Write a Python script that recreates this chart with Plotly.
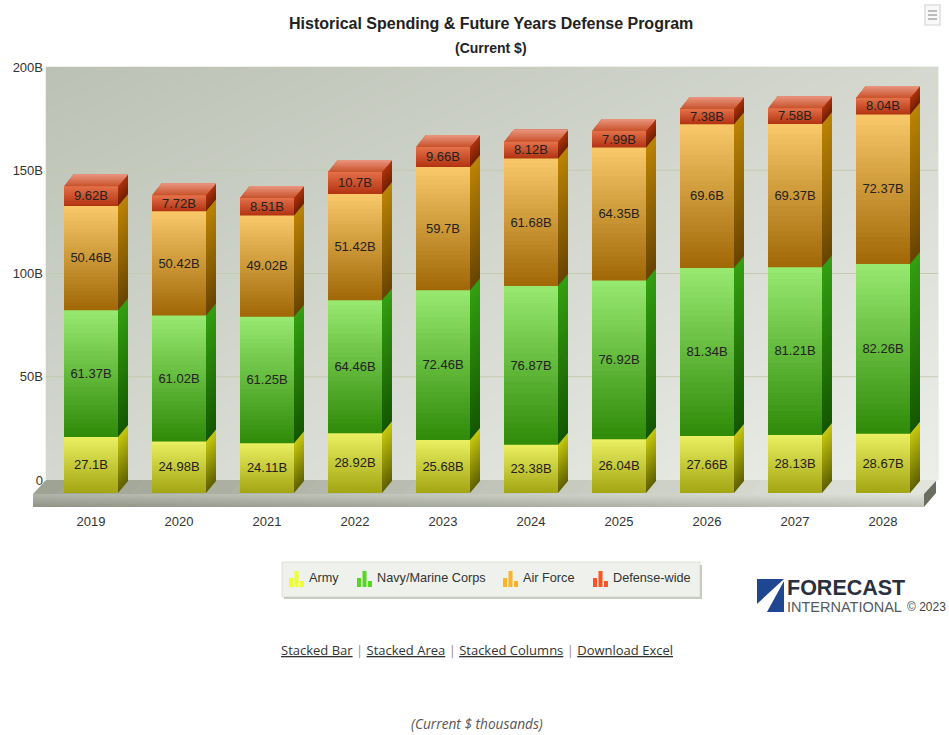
import plotly.graph_objects as go

years = ["2019", "2020", "2021", "2022", "2023", "2024", "2025", "2026", "2027", "2028"]
army = [27.1, 24.98, 24.11, 28.92, 25.68, 23.38, 26.04, 27.66, 28.13, 28.67]
navy = [61.37, 61.02, 61.25, 64.46, 72.46, 76.87, 76.92, 81.34, 81.21, 82.26]
air_force = [50.46, 50.42, 49.02, 51.42, 59.7, 61.68, 64.35, 69.6, 69.37, 72.37]
defense_wide = [9.62, 7.72, 8.51, 10.7, 9.66, 8.12, 7.99, 7.38, 7.58, 8.04]
y_ticks = [0, 50, 100, 150, 200]
y_tick_labels = ["0", "50B", "100B", "150B", "200B"]

W, H = 949, 735
series = [
    ("Army", army, "#eaf062", "#a3a512", "#c6c810", "#5f6000", "#eeff2e"),
    ("Navy/Marine Corps", navy, "#98ea70", "#2f8a08", "#33a010", "#145600", "#55d822"),
    ("Air Force", air_force, "#f9c96a", "#a06706", "#bb8404", "#694400", "#ffb224"),
    ("Defense-wide", defense_wide, "#e4704a", "#b23312", "#ad3410", "#742000", "#ff5522"),
]


def px(x):
    return x / W


def py(y):
    return 1 - y / H


def rgb(c):
    return tuple(int(c[i:i + 2], 16) for i in (1, 3, 5))


def mix(a, b, t):
    A, B = rgb(a), rgb(b)
    return "rgb(%d,%d,%d)" % tuple(round(A[i] + (B[i] - A[i]) * t) for i in range(3))


# pixel geometry of the pseudo-3D chart
STEP = 88.0
X0 = 91.0
FRONT_L, FRONT_R = 33.0, 924.0
Y_BASE, Y_TOP = 493.0, 80.0
WALL_L, WALL_R, WALL_T, WALL_B = 46.0, 938.0, 67.0, 480.0
SCALE = (Y_BASE - Y_TOP) / 200
BAR_W = 54 / STEP
DX = 10 / STEP
DY = 12 / SCALE
LABEL_DROP = 1 / SCALE
STRIPS = 28

fig = go.Figure()

# back wall (primary subplot): diagonal gradient
grid_n = 12
wall_x = [i / (grid_n - 1) for i in range(grid_n)]
wall_y = [200 * i / (grid_n - 1) for i in range(grid_n)]
wall_z = [[(x + (1 - y / 200)) / 2 for x in wall_x] for y in wall_y]
fig.add_trace(go.Heatmap(x=wall_x, y=wall_y, z=wall_z, zsmooth="best", showscale=False, hoverinfo="skip",
                         zmin=0, zmax=1, colorscale=[[0, "#bcc1b5"], [0.5, "#d4d8cf"], [1, "#eceee9"]]))
for t in y_ticks[1:-1]:
    fig.add_trace(go.Scatter(x=[0, 1], y=[t, t], mode="lines", line=dict(color="#c3cbae", width=1),
                             hoverinfo="skip", showlegend=False))

idx = list(range(len(years)))
bottom = [0.0] * len(years)
for name, vals, top_c, bot_c, side_top, side_bot, _ in series:
    for k in range(STRIPS):
        f0, f1 = k / STRIPS, (k + 1) / STRIPS
        col = mix(bot_c, top_c, (f0 + f1) / 2)
        # each strip reaches the top of its segment; the next strip paints over it, so no seams show
        fig.add_trace(go.Bar(x=idx, y=[v * (1 - f0) for v in vals],
                             base=[b + v * f0 for b, v in zip(bottom, vals)],
                             width=BAR_W, marker=dict(color=col, line=dict(width=0)),
                             name=name, hoverinfo="skip", showlegend=False, xaxis="x2", yaxis="y2"))
        sx, sy = [], []
        for i, b, v in zip(idx, bottom, vals):
            r = i + BAR_W / 2
            lo, hi = b + v * f0, b + v
            sx += [r, r + DX, r + DX, r, r, None]
            sy += [lo, lo + DY, hi + DY, hi, lo, None]
        side_col = mix(side_bot, side_top, (f0 + f1) / 2)
        fig.add_trace(go.Scatter(x=sx, y=sy, mode="none", fill="toself", fillcolor=side_col,
                                 hoverinfo="skip", showlegend=False, xaxis="x2", yaxis="y2"))
    bottom = [b + v for b, v in zip(bottom, vals)]

# top faces of the stacks
TOP_STRIPS = 8
for k in range(TOP_STRIPS):
    f0 = k / TOP_STRIPS
    tx, ty = [], []
    for i, b in zip(idx, bottom):
        l = i - BAR_W / 2
        tx += [l + DX * f0, l + BAR_W + DX * f0, l + BAR_W + DX, l + DX, l + DX * f0, None]
        ty += [b + DY * f0, b + DY * f0, b + DY, b + DY, b + DY * f0, None]
    c = mix("#c8522a", "#ea9580", f0 + 0.5 / TOP_STRIPS)
    fig.add_trace(go.Scatter(x=tx, y=ty, mode="none", fill="toself", fillcolor=c, hoverinfo="skip",
                             showlegend=False, xaxis="x2", yaxis="y2"))

# value labels
bottom = [0.0] * len(years)
for name, vals, *_ in series:
    fig.add_trace(go.Scatter(x=idx, y=[b + v / 2 - LABEL_DROP for b, v in zip(bottom, vals)], mode="text",
                             text=[f"{v:g}B" for v in vals], name=name, showlegend=False,
                             textfont=dict(family="Liberation Sans", size=13, color="#222"),
                             hovertemplate=name + " %{text}<extra></extra>", xaxis="x2", yaxis="y2"))
    bottom = [b + v for b, v in zip(bottom, vals)]

# front lip of the floor
lip_x = [i / 11 for i in range(12)]
lip_y = [i / 5 for i in range(6)]
lip_z = [[0.12 + 0.5 * x + 0.36 * y for x in lip_x] for y in lip_y]
fig.add_trace(go.Heatmap(x=lip_x, y=lip_y, z=lip_z, zsmooth="best", showscale=False, hoverinfo="skip",
                         zmin=0, zmax=1, colorscale=[[0, "#83887a"], [1, "#e0e3da"]], xaxis="x3", yaxis="y3"))

shapes = []


def poly(points, fill, line=None, layer="below"):
    path = "M" + "L".join(f"{px(x):.5f},{py(y):.5f}" for x, y in points) + "Z"
    shapes.append(dict(type="path", xref="paper", yref="paper", path=path, fillcolor=fill, layer=layer,
                       line=dict(width=0.5 if line else 0, color=line or fill)))


# floor top surface
n = 36
for i in range(n):
    a, b = i / n, (i + 1) / n
    fx = lambda t, y_: (33 + (46 - 33) * (494 - y_) / 14) + t * 891
    c = mix("#9ea293", "#e2e5dd", (a + b) / 2)
    poly([(fx(a, 494), 494), (fx(b, 494) + .5, 494), (fx(b, 480) + .5, 480), (fx(a, 480), 480)], c)
# floor right face
poly([(924, 494), (936, 481), (936, 493), (924, 507)], "#6a6e60")
# wall outline highlights
poly([(WALL_L - 1, WALL_T - 1), (WALL_R + 1, WALL_T - 1), (WALL_R + 1, WALL_B), (WALL_L - 1, WALL_B)], "#eef0ec")

# legend box
poly([(284, 565), (702, 565), (702, 599), (284, 599)], "#c9cbc2")
poly([(282, 562), (700, 562), (700, 597), (282, 597)], "#eef1ec", line="#c8ccbe")
legend_text_x = [309, 377, 523, 613]
legend_icon_x = [289, 357, 503, 593]
bar_heights = [9, 16, 6]
for (name, *_, icon), tx, ix in zip(series, legend_text_x, legend_icon_x):
    for j, bh in enumerate(bar_heights):
        poly([(ix + j * 5.5, 587), (ix + j * 5.5 + 4, 587), (ix + j * 5.5 + 4, 587 - bh), (ix + j * 5.5, 587 - bh)],
             icon, layer="above")

# logo
poly([(757, 579), (784, 579), (757, 604)], "#1f4690", layer="above")
poly([(784, 581), (784, 612), (767, 612)], "#1f4690", layer="above")

# context menu button
shapes.append(dict(type="rect", xref="paper", yref="paper", x0=px(925), x1=px(940), y0=py(5), y1=py(25),
                   line=dict(color="#dedede", width=1.5), fillcolor="#f9f9f9", layer="above"))
for yy in (11, 15, 19):
    shapes.append(dict(type="line", xref="paper", yref="paper", x0=px(928), x1=px(937), y0=py(yy), y1=py(yy),
                       line=dict(color="#bcbcbc", width=2), layer="above"))

notes = []


def note(text, x, y, size, anchor="left", family="Liberation Sans", color="#333"):
    notes.append(dict(text=text, x=px(x), y=py(y), xref="paper", yref="paper", xanchor=anchor, yanchor="middle",
                      showarrow=False, borderpad=0, borderwidth=0, font=dict(family=family, size=size, color=color)))


note("<b>Historical Spending &amp; Future Years Defense Program</b>", 491, 24, 16, "center", color="#222")
note("<b>(Current $)</b>", 491, 48, 14, "center", color="#222")
for (name, *_), tx in zip(series, legend_text_x):
    note(name, tx, 578, 12.7, color="#333")
sep = "<span style='color:#a08890'> | </span>"
note(sep.join(f"<u>{s}</u>" for s in ["Stacked Bar", "Stacked Area", "Stacked Columns", "Download Excel"]),
     476.5, 650, 13, "center", family="Open Sans", color="#333")
note("<i>(Current $ thousands)</i>", 477, 723, 13.7, "center", family="Open Sans", color="#555")
note("<b>FORECAST</b>", 787, 587.5, 21.5, color="#2a3040")
note("INTERNATIONAL", 787, 607, 14.5, color="#555a62")
note("© 2023", 907, 607, 12, color="#444")

axis_hidden = dict(showgrid=False, zeroline=False, showline=False, showticklabels=False, ticks="", automargin=False)
fig.update_layout(
    template="none",
    width=W, height=H, margin=dict(l=0, r=0, t=0, b=0), paper_bgcolor="white", plot_bgcolor="rgba(0,0,0,0)",
    barmode="overlay", showlegend=False, shapes=shapes, annotations=notes,
    xaxis=dict(domain=[px(WALL_L), px(WALL_R)], range=[0, 1], **axis_hidden),
    yaxis=dict(domain=[py(WALL_B), py(WALL_T)], range=[0, 200], tickmode="array", tickvals=y_ticks,
               ticktext=y_tick_labels, showgrid=False, zeroline=False, showline=False, ticklen=0, ticks="",
               automargin=False, ticklabelstandoff=2,
               tickfont=dict(family="Liberation Sans", size=13, color="#333")),
    xaxis2=dict(domain=[px(FRONT_L), px(FRONT_R)], range=[(FRONT_L - X0) / STEP, (FRONT_R - X0) / STEP],
                anchor="y3", tickmode="array", tickvals=idx, ticktext=years, showgrid=False, zeroline=False,
                showline=False, ticks="", automargin=False, ticklabelstandoff=5,
                tickfont=dict(family="Liberation Sans", size=13, color="#333")),
    yaxis2=dict(domain=[py(Y_BASE), py(Y_TOP)], range=[0, 200], anchor="x2", **axis_hidden),
    xaxis3=dict(domain=[px(FRONT_L), px(FRONT_R)], range=[0, 1], anchor="y3", **axis_hidden),
    yaxis3=dict(domain=[py(507), py(494)], range=[0, 1], anchor="x3", **axis_hidden),
)
fig.write_html("out.html", post_script="document.body.style.margin='0';document.body.style.overflow='hidden';",
               config=dict(displayModeBar=False))
